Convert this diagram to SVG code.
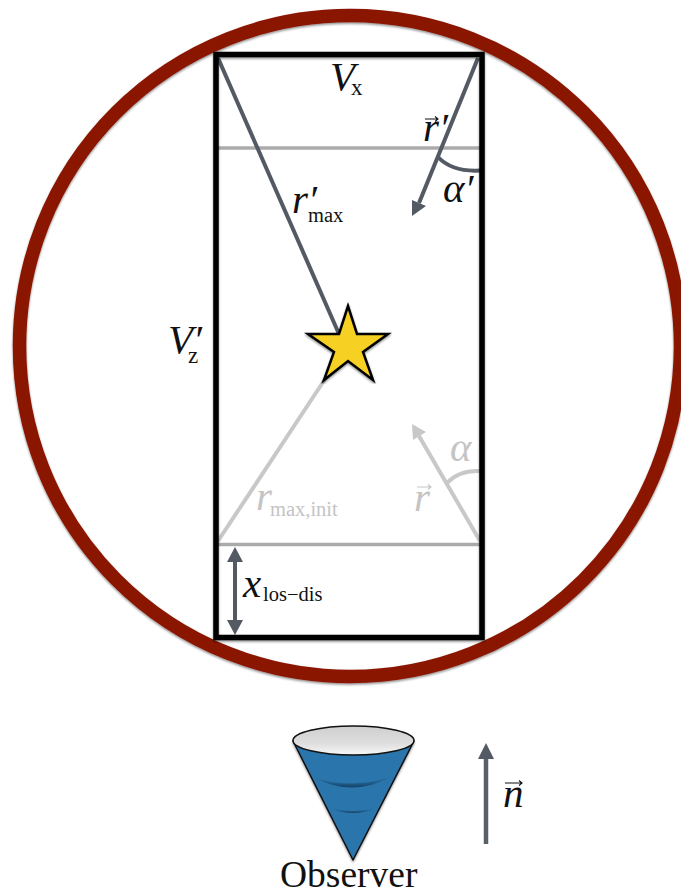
<svg xmlns="http://www.w3.org/2000/svg" width="681" height="896" viewBox="0 0 681 896">
<style>
text{font-family:"Liberation Serif","Times New Roman",serif;fill:#111}
.i{font-style:italic}
.m{font-size:41px}
.s{font-size:20.5px;font-style:normal}
.x{font-size:23px;font-style:normal}
.g{fill:#c4c4c4}
.dark{stroke:#535a63;fill:none;stroke-width:4}
.light{stroke:#c8c8c8;fill:none;stroke-width:4}
.band{stroke:#ababab;fill:none;stroke-width:3.5}
.acc{fill:none;stroke:#111;stroke-width:1.1}
.accg{fill:none;stroke:#c4c4c4;stroke-width:1.1}
</style>
<defs>
<filter id="sh" x="-5%" y="-5%" width="110%" height="110%"><feDropShadow dx="0" dy="1.500" stdDeviation="1.300" flood-color="#000" flood-opacity="0.45"/></filter>
<linearGradient id="lid" x1="0" y1="0" x2="0" y2="1"><stop offset="0" stop-color="#cfcfcf"/><stop offset="0.6" stop-color="#dedede"/><stop offset="1" stop-color="#f7f7f7"/></linearGradient>
<linearGradient id="ridge" x1="0" y1="0" x2="0" y2="1"><stop offset="0" stop-color="#1f5f8e" stop-opacity="0"/><stop offset="1" stop-color="#123f60" stop-opacity="0.95"/></linearGradient>
</defs>
<g id="sphere"><circle cx="350" cy="346" r="330.500" fill="none" stroke="#8a1503" stroke-width="13.500" filter="url(#sh)"/></g>
<g id="connectors">
<path class="band" d="M218 148H480M218 544.500H480"/>
<path class="dark" d="M218 58L339 334"/>
<path class="light" d="M218 541L335 364"/>
<path class="dark" d="M478 58L419 203"/>
<polygon points="412,216 412,200 426,206" fill="#535a63"/>
<path class="dark" d="M438 157Q452 172 480 170.500"/>
<path class="light" d="M480 541L419 436"/>
<polygon points="412,424 426,432 413,440" fill="#c8c8c8"/>
<path class="light" d="M447 483Q459 470 480 471"/>
<path class="dark" d="M235 560V622"/>
<polygon points="235,547 243,562 227,562" fill="#535a63"/>
<polygon points="235,635 243,620 227,620" fill="#535a63"/>
<path d="M486 844V756" stroke="#5a6068" stroke-width="4.500" fill="none"/>
<polygon points="486,743 494,759 478,759" fill="#535a63"/>
</g>
<g id="box"><rect x="216" y="54.500" width="266" height="583" fill="none" stroke="#000" stroke-width="5.500" filter="url(#sh)"/></g>
<g id="star"><polygon points="348,306 357,334 388,334 363,352 373,380 348,361 324,380 334,352 308,334 339,334" fill="#f6d024" stroke="#000" stroke-width="2.500" filter="url(#sh)"/></g>
<g id="cone">
<polygon points="293,741 414,741 353,860" fill="#2b75ab" stroke="#111" stroke-width="1.500" stroke-linejoin="round" filter="url(#sh)"/>
<path d="M315 778Q353 790 393 776Q353 798 315 778Z" fill="url(#ridge)"/>
<path d="M329 808Q353 814 377 808Q353 818 329 808Z" fill="url(#ridge)"/>
<ellipse cx="353.500" cy="740.500" rx="60.500" ry="14.500" fill="url(#lid)" stroke="#111" stroke-width="1.500"/>
</g>
<g id="labels">
<text x="330" y="90" class="m i">V<tspan class="x" x="351" y="95">x</tspan></text>
<text x="423" y="141" class="m i">r′</text>
<path class="acc" d="M425 119H438M435 116.500L438 119L435 121.500"/>
<text x="443" y="202" class="m i">α′</text>
<text x="292" y="213" class="m i">r′<tspan class="s" x="308" y="222">max</tspan></text>
<text x="168" y="353" class="m i">V′<tspan class="x" x="188" y="363">z</tspan></text>
<text x="256" y="510" class="m i g">r<tspan class="s" x="270" y="516">max,init</tspan></text>
<text x="450" y="461" class="m i g">α</text>
<text x="414" y="511" class="m i g">r</text>
<path class="accg" d="M417 487H431M428 484.500L431 487L428 489.500"/>
<text x="243" y="597" class="m i">x<tspan class="s" x="263" y="601">los−dis</tspan></text>
<text x="503" y="807" class="m i">n</text>
<path class="acc" d="M505 783H522M519 780.500L522 783L519 785.500"/>
<text x="280" y="887" font-size="37.500">Observer</text>
</g>
</svg>
